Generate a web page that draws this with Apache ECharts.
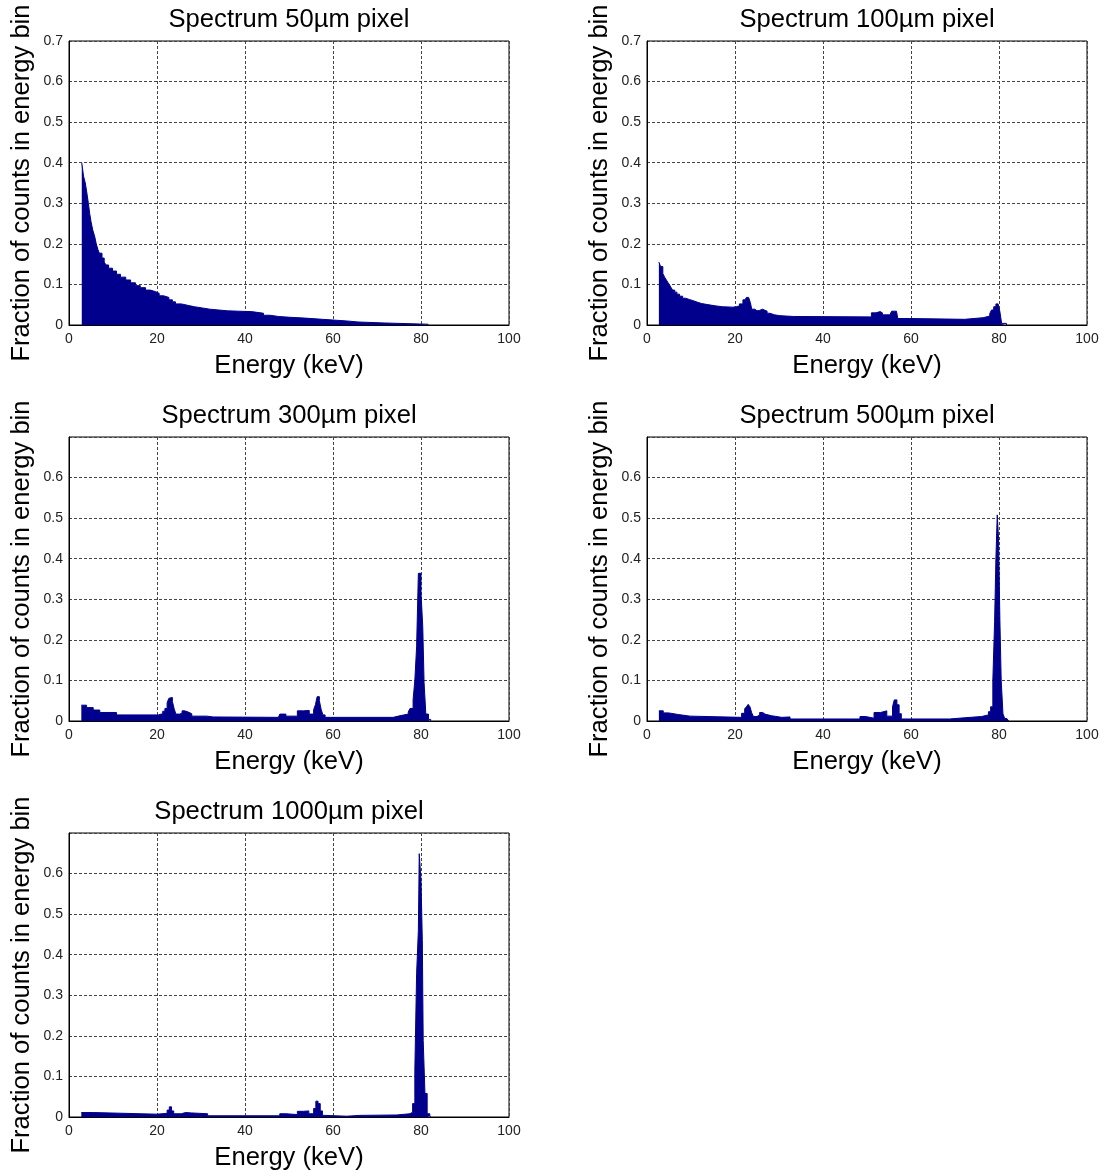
<!DOCTYPE html>
<html><head><meta charset="utf-8">
<script src="https://cdn.jsdelivr.net/npm/echarts@6/dist/echarts.min.js"></script>
<style>html,body{margin:0;padding:0;background:#fff}#c{width:1105px;height:1173px}</style>
</head><body><div id="c"></div>
<script>
const titles = ['Spectrum 50\u00b5m pixel','Spectrum 100\u00b5m pixel','Spectrum 300\u00b5m pixel','Spectrum 500\u00b5m pixel','Spectrum 1000\u00b5m pixel'];
const xTicks = [0, 20, 40, 60, 80, 100];
const yTicks = [0, 0.1, 0.2, 0.3, 0.4, 0.5, 0.6, 0.7];

// bin left edges (keV) and fractions, per pixel size
const e50 = [2.9, 3.3, 3.7, 4.0, 4.4, 4.7, 5.0, 5.4, 5.8, 6.2,
 6.6, 6.9, 7.5, 8.0, 8.4, 9.0, 9.9, 10.8, 11.7, 12.9,
 14.0, 15.1, 16.2, 17.4, 18.5, 19.7, 20.5, 21.5, 22.7, 23.5,
 24.2, 25.5, 27.2, 28.5, 30.3, 32.0, 34.0, 36.0, 38.6, 41.5,
 44.2, 45.7, 47.6, 50.2, 53.6, 57.6, 63.1, 65.7, 71.7, 79.7,
 81.6];
const v50 = [0.400, 0.367, 0.350, 0.330, 0.300, 0.275, 0.255, 0.234, 0.220, 0.200,
 0.185, 0.177, 0.165, 0.155, 0.148, 0.140, 0.133, 0.125, 0.118, 0.111,
 0.104, 0.097, 0.092, 0.086, 0.082, 0.078, 0.072, 0.068, 0.062, 0.057,
 0.052, 0.048, 0.045, 0.042, 0.039, 0.037, 0.035, 0.034, 0.033, 0.029,
 0.024, 0.021, 0.019, 0.017, 0.014, 0.010, 0.0074, 0.005, 0.0025, 0.002,
 0];

const e100 = [2.7, 3.1, 3.6, 4.0, 4.4, 4.8, 5.1, 5.5, 5.8, 6.3,
 6.8, 7.4, 8.1, 8.8, 9.6, 10.5, 11.5, 12.4, 13.4, 14.5,
 15.7, 17.2, 19.5, 20.3, 21.0, 21.8, 22.3, 22.6, 23.1, 23.5,
 23.8, 24.5, 25.0, 25.6, 26.2, 26.7, 27.3, 27.9, 29.0, 30.2,
 31.7, 33.3, 51.0, 52.0, 53.0, 53.5, 55.2, 55.6, 56.7, 57.0,
 59.7, 72.2, 76.4, 77.9, 78.3, 78.8, 79.3, 79.8, 80.2, 80.6,
 81.7];
const v100 = [0.155, 0.144, 0.127, 0.118, 0.111, 0.104, 0.099, 0.092, 0.086, 0.081,
 0.076, 0.071, 0.066, 0.063, 0.060, 0.056, 0.053, 0.051, 0.049, 0.047,
 0.045, 0.044, 0.045, 0.047, 0.052, 0.062, 0.066, 0.068, 0.066, 0.055,
 0.039, 0.035, 0.036, 0.039, 0.037, 0.034, 0.029, 0.025, 0.023, 0.022,
 0.021, 0.020, 0.030, 0.033, 0.030, 0.025, 0.028, 0.034, 0.030, 0.016,
 0.014, 0.018, 0.022, 0.028, 0.037, 0.045, 0.052, 0.048, 0.033, 0.004,
 0];

const e300 = [2.8, 4.0, 5.5, 7.0, 10.8, 20.3, 21.3, 21.8, 22.3, 22.7,
 23.1, 23.5, 23.9, 24.3, 25.2, 25.7, 26.3, 27.1, 27.9, 31.3,
 32.8, 47.6, 47.9, 49.3, 51.9, 53.3, 54.6, 55.6, 56.0, 56.4,
 56.9, 57.3, 57.7, 58.2, 73.7, 75.2, 77.1, 77.5, 78.2, 78.6,
 79.0, 79.4, 80.0, 80.4, 80.7, 81.1, 81.7, 82.2];
const v300 = [0.039, 0.033, 0.027, 0.021, 0.015, 0.018, 0.024, 0.031, 0.045, 0.056,
 0.058, 0.048, 0.030, 0.017, 0.020, 0.025, 0.022, 0.018, 0.012, 0.010,
 0.009, 0.011, 0.017, 0.012, 0.025, 0.026, 0.017, 0.028, 0.040, 0.060,
 0.050, 0.029, 0.015, 0.009, 0.013, 0.017, 0.022, 0.031, 0.052, 0.100,
 0.183, 0.364, 0.315, 0.232, 0.094, 0.017, 0.004, 0];

const e500 = [2.7, 3.7, 4.9, 7.1, 9.8, 21.5, 22.2, 22.6, 23.0, 23.4,
 23.8, 24.2, 25.0, 25.6, 26.3, 26.8, 28.3, 30.6, 32.5, 48.4,
 49.7, 51.6, 53.1, 54.5, 55.8, 56.2, 56.8, 57.3, 57.8, 68.8,
 72.2, 76.0, 77.6, 78.1, 78.6, 79.0, 79.3, 79.6, 79.9, 80.2,
 80.5, 80.9, 81.3, 81.8, 82.2];
const v500 = [0.025, 0.020, 0.016, 0.012, 0.009, 0.019, 0.030, 0.035, 0.041, 0.035,
 0.020, 0.011, 0.015, 0.021, 0.017, 0.013, 0.009, 0.010, 0.005, 0.011,
 0.007, 0.021, 0.025, 0.012, 0.035, 0.052, 0.040, 0.018, 0.005, 0.008,
 0.011, 0.015, 0.023, 0.035, 0.100, 0.245, 0.400, 0.508, 0.450, 0.250,
 0.100, 0.018, 0.006, 0.003, 0];

const e1000 = [2.8, 5.5, 20.0, 22.3, 22.8, 23.3, 23.8, 25.5, 26.5, 27.9,
 31.5, 47.9, 49.3, 51.9, 53.3, 54.5, 55.6, 56.1, 56.6, 57.1,
 57.6, 58.2, 63.1, 66.1, 74.5, 77.5, 78.1, 78.6, 79.0, 79.4,
 79.6, 80.0, 80.3, 80.5, 80.9, 81.4, 82.0, 82.3];
const v1000 = [0.011, 0.007, 0.009, 0.017, 0.025, 0.015, 0.008, 0.011, 0.010, 0.008,
 0.003, 0.008, 0.006, 0.014, 0.015, 0.008, 0.021, 0.039, 0.033, 0.015,
 0.004, 0.002, 0.004, 0.005, 0.008, 0.012, 0.033, 0.115, 0.353, 0.460,
 0.649, 0.583, 0.435, 0.189, 0.058, 0.008, 0.002, 0];

const energies = [e50, e100, e300, e500, e1000];
const values = [v50, v100, v300, v500, v1000];
const showTopLabel = [true, true, false, false, false];

const panels = [
  {left: 69, top: 41}, {left: 647, top: 41},
  {left: 69, top: 437}, {left: 647, top: 437},
  {left: 69, top: 833}
];
const W = 440, H = 284;
const FONT = '"Liberation Sans", Arial, sans-serif';
const BIG = 25.6;
const COLOR = '#00008c';

const grid = [], xAxis = [], yAxis = [], series = [], graphic = [];
panels.forEach((p, i) => {
  grid.push({left: p.left, top: p.top, width: W, height: H, show: true,
    borderColor: '#000', borderWidth: 1, backgroundColor: 'transparent'});
  xAxis.push({type: 'value', gridIndex: i, min: xTicks[0], max: xTicks[xTicks.length-1], interval: 20,
    name: 'Energy (keV)', nameLocation: 'middle', nameGap: 28,
    nameTextStyle: {fontFamily: FONT, fontSize: BIG, color: '#000'},
    axisLine: {show: true, lineStyle: {color: '#000', width: 1}},
    axisTick: {show: false},
    axisLabel: {fontFamily: FONT, fontSize: 14, color: '#222', margin: 7},
    splitLine: {show: true, lineStyle: {color: '#444', width: 1, type: [3, 2]}}
  });
  const showTop = showTopLabel[i];
  yAxis.push({type: 'value', gridIndex: i, min: yTicks[0], max: yTicks[yTicks.length-1], interval: 0.1,
    name: 'Fraction of counts in energy bin', nameLocation: 'middle', nameGap: 34, nameRotate: 90,
    nameTextStyle: {fontFamily: FONT, fontSize: BIG, color: '#000'},
    axisLine: {show: true, lineStyle: {color: '#000', width: 1}},
    axisTick: {show: false},
    axisLabel: {fontFamily: FONT, fontSize: 14, color: '#222', margin: 6,
      formatter: v => (v > 0.65 && !showTop) ? '' : (v === 0 ? '0' : (+v.toFixed(1)).toString())},
    splitLine: {show: true, lineStyle: {color: '#444', width: 1, type: [3, 2]}}
  });
  series.push({type: 'line', xAxisIndex: i, yAxisIndex: i, step: 'end',
    data: energies[i].map((e, k) => [e, values[i][k]]),
    showSymbol: false, symbol: 'none', silent: true,
    lineStyle: {color: COLOR, width: 1},
    areaStyle: {color: COLOR, opacity: 1}
  });
  graphic.push({type: 'text', x: p.left + W/2, y: p.top - 21,
    style: {text: titles[i], font: BIG + 'px ' + FONT, fill: '#000',
      textAlign: 'center', textVerticalAlign: 'middle'}});
});

const chart = echarts.init(document.getElementById('c'), null, {renderer: 'canvas'});
chart.setOption({animation: false, grid, xAxis, yAxis, series, graphic});
</script></body></html>
